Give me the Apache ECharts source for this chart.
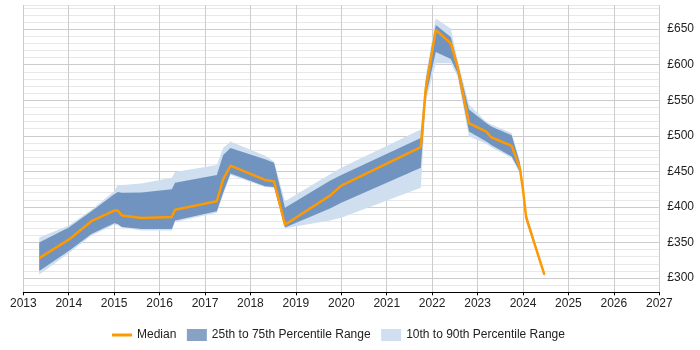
<!DOCTYPE html>
<html><head><meta charset="utf-8">
<script src="https://cdn.jsdelivr.net/npm/echarts@6/dist/echarts.min.js"></script>
<style>html,body{margin:0;padding:0;background:#fff}#c{width:700px;height:350px}</style>
</head><body><div id="c"></div>
<script>
const years  = [2013.35,2014.0,2014.5,2015.0,2015.08,2015.17,2015.6,2016.27,2016.34,2017.26,2017.40,2017.56,2018.32,2018.52,2018.76,2019.75,2020.0,2021.75,2021.86,2022.08,2022.41,2022.56,2022.81,2023.19,2023.30,2023.75,2023.93,2024.0,2024.07,2024.47];
const p10    = [305,335,360,375,374,371,367,367,379,392,418,445,428,427,370,381,385,427,548,602,602,583,499,489,484,469,447,420,380,302];
const p25    = [310,338,362,377,376,372,369,369,381,394,420,447,429,428,371,398,406,455,555,618,608,588,506,492,487,471,450,421,382,303];
const median = [328,354,380,395,395,388,384.5,386,396,408,439,458,438,436,375,416,430,484,567,649,630,597,518,506,498,486,455,424,385,305];
const p75    = [350,371,394,418,421,420,420.5,425,434,445,473,483,467,462,399,437,445,497,578,656,639,602,537,518,513,501,462,430,390,307];
const p90    = [357,374,396,422,431,431,433,441,449,459,483,492,472,464,408,446,455,509,585,665,651,607,544,520,516,504,465,432,392,308];
const yearTicks = [2013,2014,2015,2016,2017,2018,2019,2020,2021,2022,2023,2024,2025,2026,2027];
const valueTickLabels = [300,350,400,450,500,550,600,650];
const seriesNames = ['Median','25th to 75th Percentile Range','10th to 90th Percentile Range'];

const FONT = 'Liberation Sans, Arial, sans-serif';
const C_MED = '#ff9900', C_DARK = '#7094bf', C_LIGHT = '#cfdff0';

function bandRender(lo, hi) {
  return function (params, api) {
    if (params.dataIndex !== 0) return null;
    const pts = [];
    for (let i = 0; i < years.length; i++) pts.push(api.coord([years[i], hi[i]]));
    for (let i = years.length - 1; i >= 0; i--) pts.push(api.coord([years[i], lo[i]]));
    return { type: 'polygon', shape: { points: pts }, style: { fill: api.visual('color') } };
  };
}

const chart = echarts.init(document.getElementById('c'), null, { renderer: 'canvas' });
chart.setOption({
  animation: false,
  backgroundColor: '#fff',
  grid: { left: 23.3, right: 40.7, top: 5, bottom: 57.7, containLabel: false },
  xAxis: {
    type: 'value', min: yearTicks[0], max: yearTicks[yearTicks.length - 1], interval: 1,
    axisLine: { show: true, lineStyle: { color: '#000', width: 1 } },
    axisTick: { show: true, length: 3, lineStyle: { color: '#000' } },
    axisLabel: { color: '#222', fontSize: 12, fontFamily: FONT, margin: 5, formatter: v => String(Math.round(v)) },
    splitLine: { show: true, lineStyle: { color: '#cccccc', width: 1 } }
  },
  yAxis: {
    type: 'value', position: 'right', min: 280, max: 684, interval: 10,
    axisLine: { show: false }, axisTick: { show: false },
    axisLabel: { color: '#222', fontSize: 12, fontFamily: FONT, margin: 8,
      formatter: v => valueTickLabels.indexOf(Math.round(v)) >= 0 && Math.abs(v - Math.round(v)) < 1e-6 ? '£' + Math.round(v) : '' },
    splitLine: { show: true, lineStyle: { color: ['#e8e8e8', '#e8e8e8', '#cccccc', '#e8e8e8', '#e8e8e8'], width: 1 } }
  },
  legend: {
    top: 329, left: 112, padding: 0, itemWidth: 20, itemHeight: 12, itemGap: 10.5,
    textStyle: { fontSize: 12, color: '#222', fontFamily: FONT },
    data: [
      { name: seriesNames[0], icon: 'path://M0,0L0,0M0,4.5H20V7.5H0ZM20,12L20,12', itemStyle: { color: C_MED } },
      { name: seriesNames[1], icon: 'rect', itemStyle: { color: '#86a3c6' } },
      { name: seriesNames[2], icon: 'rect', itemStyle: { color: C_LIGHT } }
    ]
  },
  series: [
    { name: seriesNames[2], type: 'custom', z: 1, itemStyle: { color: C_LIGHT },
      renderItem: bandRender(p10, p90), encode: { x: 0, y: [1, 2] },
      data: years.map((y, i) => [y, p10[i], p90[i]]) },
    { name: seriesNames[1], type: 'custom', z: 2, itemStyle: { color: C_DARK },
      renderItem: bandRender(p25, p75), encode: { x: 0, y: [1, 2] },
      data: years.map((y, i) => [y, p25[i], p75[i]]) },
    { name: seriesNames[0], type: 'line', z: 3, symbol: 'none', showSymbol: false,
      lineStyle: { color: C_MED, width: 2.5 }, itemStyle: { color: C_MED },
      data: years.map((y, i) => [y, median[i]]) }
  ]
});
</script></body></html>
